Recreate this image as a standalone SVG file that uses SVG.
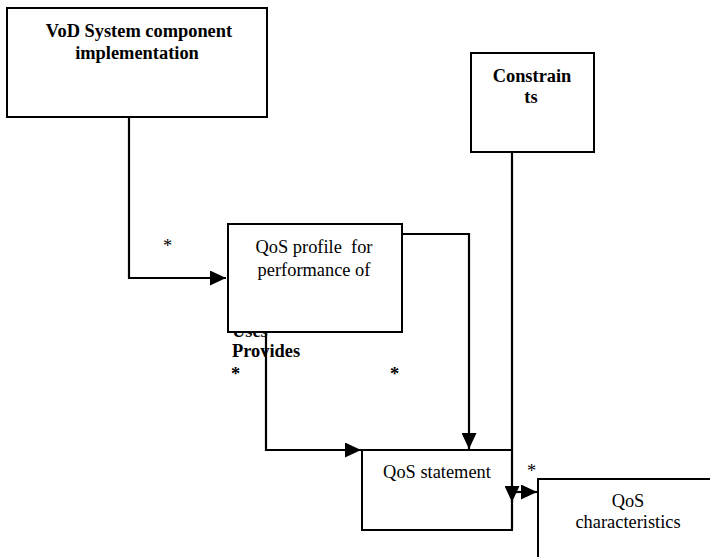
<svg xmlns="http://www.w3.org/2000/svg" width="710" height="557" viewBox="0 0 710 557">
  <style>
    .box { fill: #fff; stroke: #000; stroke-width: 2; }
    .wire { fill: none; stroke: #000; stroke-width: 2.2; }
    text { font-family: Liberation Serif, Times New Roman, DejaVu Serif, serif; font-size: 18.4px; fill: #000; }
    .b { font-weight: bold; }
    .c { text-anchor: middle; }
  </style>
  <defs>
    <marker id="head" viewBox="0 0 16 15" refX="16" refY="7.5" markerWidth="16" markerHeight="15" markerUnits="userSpaceOnUse" orient="auto">
      <path d="M0,0 L16,7.5 L0,15 z" fill="#000"/>
    </marker>
  </defs>

  <rect width="710" height="557" fill="#fff"/>

  <!-- role labels, the first one mostly covered by the profile box -->
  <text class="b" x="232" y="337">Uses</text>
  <text class="b" x="232" y="357">Provides</text>

  <g id="vod">
    <rect class="box" x="7" y="8" width="260" height="109"/>
    <text class="b c" x="139" y="37">VoD System component</text>
    <text class="b c" x="137" y="59">implementation</text>
  </g>

  <g id="constraints">
    <rect class="box" x="471" y="53" width="123" height="99"/>
    <text class="b c" x="532" y="82">Constrain</text>
    <text class="b c" x="531" y="103">ts</text>
  </g>

  <g id="profile">
    <rect class="box" x="228" y="224" width="174" height="108"/>
    <text class="c" x="314" y="253" xml:space="preserve">QoS profile  for</text>
    <text class="c" x="314" y="276">performance of</text>
  </g>

  <g id="statement">
    <rect class="box" x="362" y="450" width="150" height="80"/>
    <text class="c" x="437" y="478">QoS statement</text>
  </g>

  <g id="characteristics">
    <rect class="box" x="538" y="479" width="190" height="100"/>
    <text class="c" x="628" y="507">QoS</text>
    <text class="c" x="628" y="528">characteristics</text>
  </g>

  <g id="connectors">
    <path class="wire" d="M129,117 V278 H226" marker-end="url(#head)"/>
    <path class="wire" d="M402,234 H469 V449" marker-end="url(#head)"/>
    <path class="wire" d="M266,332 V450 H361" marker-end="url(#head)"/>
    <path class="wire" d="M512,152 V502" marker-end="url(#head)"/>
    <path class="wire" d="M512,500 V530"/>
    <path class="wire" d="M513,492 H537" marker-end="url(#head)"/>
  </g>

  <g id="multiplicities">
    <text x="163" y="252">*</text>
    <text class="b" x="231" y="380">*</text>
    <text class="b" x="390" y="380">*</text>
    <text x="527" y="477">*</text>
  </g>
</svg>
